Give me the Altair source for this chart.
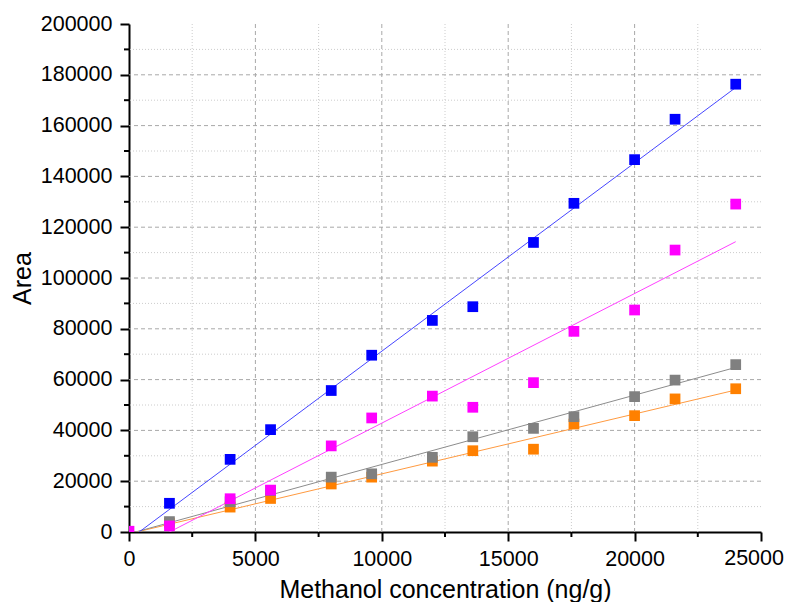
import altair as alt
import pandas as pd

# ---- data ----
conc = [0, 1600, 4000, 5600, 8000, 9600, 12000, 13600, 16000, 17600, 20000, 21600, 24000]
blue_area = [None, 11300, 28600, 40300, 55700, 69600, 83300, 88700, 114000, 129400, 146600, 162500, 176300]
magenta_area = [300, 2400, 13100, 16500, 33900, 44900, 53500, 49100, 58800, 79000, 87400, 111000, 129100]
gray_area = [None, 4100, 11900, 16300, 21600, 22900, 29400, 37500, 40800, 45400, 53300, 59800, 65900]
orange_area = [None, 3500, 9800, 13200, 18900, 21600, 27900, 32000, 32600, 42500, 45800, 52400, 56400]

# fitted line end points (x, y)
fit_x = [0, 24000]
blue_fit = [-2970, 175000]
magenta_fit = [-8160, 114300]
gray_fit = [-700, 64800]
orange_fit = [-700, 55900]

series = ["orange", "gray", "magenta", "blue"]
point_colors = ["#ff8000", "#808080", "#ff00ff", "#0000ff"]
line_colors = ["#ff9a40", "#8c8c8c", "#ff40ff", "#4646ff"]

x_ticks = [0, 5000, 10000, 15000, 20000, 25000]
last_x_label = ["25000"]
y_ticks = [0, 20000, 40000, 60000, 80000, 100000, 120000, 140000, 160000, 180000, 200000]
x_major_grid = [5000, 10000, 15000, 20000]
x_minor = [2500, 7500, 12500, 17500, 22500]
y_major_grid = [20000, 40000, 60000, 80000, 100000, 120000, 140000, 160000, 180000]
y_minor = [10000, 30000, 50000, 70000, 90000, 110000, 130000, 150000, 170000, 190000]

# ---- tables ----
vals = {"orange": orange_area, "gray": gray_area, "magenta": magenta_area, "blue": blue_area}
fits = {"orange": orange_fit, "gray": gray_fit, "magenta": magenta_fit, "blue": blue_fit}
rows = []
for s in series:
    for xv, yv in zip(conc, vals[s]):
        if yv is not None:
            rows.append({"x": xv, "y": yv, "s": s})
pts = pd.DataFrame(rows)
frows = []
for s in series:
    for xv, yv in zip(fit_x, fits[s]):
        frows.append({"x": xv, "y": yv, "s": s})
fit = pd.DataFrame(frows)

W, H = 632, 508
FONT = "Liberation Sans"
LFS = 21.5
xscale = alt.Scale(domain=[0, 25000], nice=False, zero=False)
yscale = alt.Scale(domain=[0, 200000], nice=False, zero=False)
xaxis = alt.Axis(values=x_ticks, format="d", grid=False, tickSize=9, tickWidth=2,
                 tickColor="black", domainColor="black", domainWidth=2,
                 labelFont=FONT, labelFontSize=LFS, labelColor="black", labelPadding=7,
                 labelFlush=False, labelExpr="datum.value == 25000 ? '' : datum.label",
                 title="Methanol concentration (ng/g)", titleFont=FONT,
                 titleFontSize=25, titleFontWeight="normal", titleColor="black", titlePadding=8)
yaxis = alt.Axis(values=y_ticks, format="d", grid=False, tickSize=9, tickWidth=2,
                 tickColor="black", domainColor="black", domainWidth=2,
                 labelFont=FONT, labelFontSize=LFS, labelColor="black", labelPadding=8,
                 labelFlush=False, title="Area", titleFont=FONT,
                 titleFontSize=25, titleFontWeight="normal", titleColor="black", titlePadding=5)
X = lambda f="x": alt.X(f"{f}:Q", scale=xscale, axis=xaxis)
Y = lambda f="y": alt.Y(f"{f}:Q", scale=yscale, axis=yaxis)
cscale = alt.Scale(domain=series, range=point_colors)
lscale = alt.Scale(domain=series, range=line_colors)

gx_major = alt.Chart(pd.DataFrame({"x": x_major_grid})).mark_rule(
    color="#a8a8a8", strokeDash=[4, 3], strokeWidth=1).encode(x=X())
gx_minor = alt.Chart(pd.DataFrame({"x": x_minor})).mark_rule(
    color="#cccccc", strokeDash=[1, 2], strokeWidth=1).encode(x=X())
gy_major = alt.Chart(pd.DataFrame({"y": y_major_grid})).mark_rule(
    color="#a8a8a8", strokeDash=[4, 3], strokeWidth=1).encode(y=Y())
gy_minor = alt.Chart(pd.DataFrame({"y": y_minor})).mark_rule(
    color="#cccccc", strokeDash=[1, 2], strokeWidth=1).encode(y=Y())

tx_minor = alt.Chart(pd.DataFrame({"x": x_minor})).mark_rule(
    color="black", strokeWidth=2).encode(x=X(), y=alt.value(H), y2=alt.value(H + 5))
ty_minor = alt.Chart(pd.DataFrame({"y": y_minor})).mark_rule(
    color="black", strokeWidth=2).encode(y=Y(), x=alt.value(-5), x2=alt.value(0))

# last x label, kept inside the page
last_lbl = alt.Chart(pd.DataFrame({"x": [x_ticks[-1]], "t": last_x_label})).mark_text(
    font=FONT, fontSize=LFS, color="black", align="right", baseline="top", dx=23
).encode(x=X(), y=alt.value(H + 16), text="t:N")

lines = alt.Chart(fit).mark_line(strokeWidth=1, clip=True).encode(
    x=X(), y=Y(), color=alt.Color("s:N", scale=lscale, legend=None), detail="s:N")
points = alt.Chart(pts).mark_square(size=115, opacity=1, clip=True).encode(
    x=X(), y=Y(), color=alt.Color("s:N", scale=cscale, legend=None))

chart = alt.layer(gx_minor, gy_minor, gx_major, gy_major, lines, points, tx_minor, ty_minor, last_lbl
).resolve_scale(color="independent").properties(
    width=W, height=H, autosize="none",
    padding={"left": 121, "top": 16, "right": 24, "bottom": 70},
    background="white"
).configure_view(stroke=None)

chart.save("out.html", embed_options={"renderer": "svg", "actions": False})
